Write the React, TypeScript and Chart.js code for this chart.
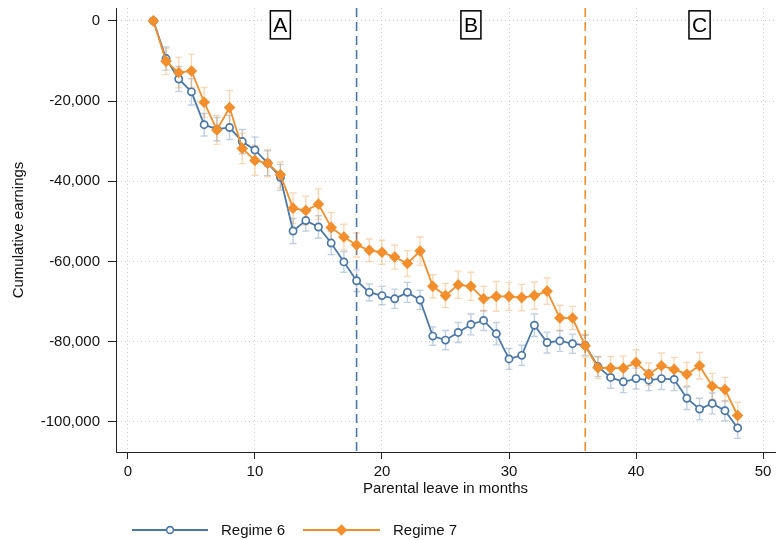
import React, { useEffect, useRef } from "react";
import { Chart, registerables } from "chart.js";

Chart.register(...registerables);

const months = [2, 3, 4, 5, 6, 7, 8, 9, 10, 11, 12, 13, 14, 15, 16, 17, 18, 19, 20, 21, 22, 23, 24, 25, 26, 27, 28, 29, 30, 31, 32, 33, 34, 35, 36, 37, 38, 39, 40, 41, 42, 43, 44, 45, 46, 47, 48];

const regime6 = [0, -9400, -14500, -17700, -25900, -27000, -26600, -30100, -32200, -35500, -39000, -52400, -49800, -51400, -55400, -60100, -64800, -67700, -68500, -69300, -67700, -69600, -78600, -79600, -77700, -75700, -74700, -78000, -84300, -83400, -75900, -80200, -79800, -80500, -80900, -86200, -88900, -90000, -89200, -89600, -89200, -89400, -94100, -96800, -95400, -97200, -101500];
const regime6Err = [0, 2900, 3100, 3300, 2800, 2900, 3000, 3000, 3200, 3100, 3200, 3100, 2600, 2800, 2900, 2600, 2700, 2100, 2300, 2400, 2500, 2400, 2300, 2400, 2500, 2600, 2500, 2800, 2600, 2500, 2800, 2600, 2600, 2400, 2500, 2500, 2700, 2700, 2600, 2600, 2700, 2800, 2800, 2700, 2600, 2500, 2600];

const regime7 = [0, -10100, -12900, -12500, -20300, -27200, -21600, -31800, -34800, -35500, -38400, -46700, -47300, -45700, -51500, -53900, -55900, -57200, -57700, -58900, -60500, -57400, -66200, -68500, -65800, -66200, -69300, -68700, -68700, -69000, -68500, -67400, -74100, -74100, -81000, -86500, -86600, -86600, -85200, -88100, -86000, -86900, -88100, -86000, -91100, -91900, -98400];
const regime7Err = [0, 3300, 3800, 4200, 3700, 3600, 4200, 3800, 3700, 3400, 3200, 3800, 3600, 3800, 3700, 3200, 3000, 2800, 3000, 3000, 3200, 3500, 2900, 3000, 3400, 3500, 3100, 3700, 3500, 3300, 3400, 3300, 3200, 2900, 2800, 2700, 2900, 3000, 3200, 2800, 3200, 3000, 2900, 3300, 3200, 3000, 3300];

const xTicks = [0, 10, 20, 30, 40, 50];
const yTicks = [0, -20000, -40000, -60000, -80000, -100000];

const cutoffs = [18, 36];
const regionLabels = ["A", "B", "C"];
const regionPositions = [12, 27, 45];
const regionLabelY = -1000;

const seriesNames = ["Regime 6", "Regime 7"];

const BLUE = "#4b78a8";
const ORANGE = "#f28e2b";
const BLUE_ERR = "rgba(75,120,168,0.35)";
const ORANGE_ERR = "rgba(242,142,43,0.35)";
const FONT = "'Liberation Sans', Arial, Helvetica, sans-serif";

function fmt(v: number) {
  return v.toLocaleString("en-US");
}

const overlayPlugin = {
  id: "overlay",
  beforeDatasetsDraw(chart: any) {
    const { ctx, scales, chartArea } = chart;
    const xs = scales.x;
    const ys = scales.y;
    const cutColors = [BLUE, ORANGE];
    cutoffs.forEach((c, i) => {
      const px = xs.getPixelForValue(c);
      ctx.save();
      ctx.strokeStyle = cutColors[i];
      ctx.lineWidth = 1.6;
      ctx.setLineDash([9, 5]);
      ctx.beginPath();
      ctx.moveTo(px, chartArea.top);
      ctx.lineTo(px, chartArea.bottom);
      ctx.stroke();
      ctx.restore();
    });
    const sets = [
      { vals: regime6, errs: regime6Err, color: BLUE_ERR },
      { vals: regime7, errs: regime7Err, color: ORANGE_ERR },
    ];
    sets.forEach((s) => {
      ctx.save();
      ctx.strokeStyle = s.color;
      ctx.lineWidth = 1.4;
      months.forEach((m, i) => {
        const e = s.errs[i];
        if (!e) return;
        const px = xs.getPixelForValue(m);
        const y1 = ys.getPixelForValue(s.vals[i] + e);
        const y2 = ys.getPixelForValue(s.vals[i] - e);
        ctx.beginPath();
        ctx.moveTo(px, y1);
        ctx.lineTo(px, y2);
        ctx.moveTo(px - 3.5, y1);
        ctx.lineTo(px + 3.5, y1);
        ctx.moveTo(px - 3.5, y2);
        ctx.lineTo(px + 3.5, y2);
        ctx.stroke();
      });
      ctx.restore();
    });
  },
  afterDraw(chart: any) {
    const { ctx, scales } = chart;
    const xs = scales.x;
    const ys = scales.y;
    ctx.save();
    ctx.font = `21px ${FONT}`;
    ctx.textAlign = "center";
    ctx.textBaseline = "middle";
    regionLabels.forEach((lab, i) => {
      const px = xs.getPixelForValue(regionPositions[i]);
      const py = ys.getPixelForValue(regionLabelY);
      const w = ctx.measureText(lab).width + 6;
      const h = 28;
      ctx.fillStyle = "#fff";
      ctx.fillRect(px - w / 2, py - h / 2, w, h);
      ctx.strokeStyle = "#000";
      ctx.lineWidth = 1.5;
      ctx.strokeRect(px - w / 2, py - h / 2, w, h);
      ctx.fillStyle = "#000";
      ctx.fillText(lab, px, py + 1);
    });
    ctx.restore();

    ctx.save();
    const ly = 530;
    const items = [
      { x0: 132, x1: 208, color: BLUE, marker: "circle", text: seriesNames[0], tx: 221 },
      { x0: 303, x1: 380, color: ORANGE, marker: "diamond", text: seriesNames[1], tx: 393 },
    ];
    items.forEach((it) => {
      ctx.strokeStyle = it.color;
      ctx.lineWidth = 1.8;
      ctx.beginPath();
      ctx.moveTo(it.x0, ly);
      ctx.lineTo(it.x1, ly);
      ctx.stroke();
      const mx = (it.x0 + it.x1) / 2;
      if (it.marker === "circle") {
        ctx.fillStyle = "#fff";
        ctx.beginPath();
        ctx.arc(mx, ly, 3.4, 0, Math.PI * 2);
        ctx.fill();
        ctx.lineWidth = 1.6;
        ctx.stroke();
      } else {
        ctx.fillStyle = it.color;
        ctx.beginPath();
        ctx.moveTo(mx, ly - 5.8);
        ctx.lineTo(mx + 5.8, ly);
        ctx.lineTo(mx, ly + 5.8);
        ctx.lineTo(mx - 5.8, ly);
        ctx.closePath();
        ctx.fill();
      }
      ctx.fillStyle = "#111";
      ctx.font = `15px ${FONT}`;
      ctx.textAlign = "left";
      ctx.textBaseline = "middle";
      ctx.fillText(it.text, it.tx, ly + 1);
    });
    ctx.restore();
  },
};

export default function App() {
  const ref = useRef<HTMLCanvasElement | null>(null);

  useEffect(() => {
    if (!ref.current) return;
    const gridColor = "#cfcfcf";
    const chart = new Chart(ref.current, {
      type: "line",
      data: {
        datasets: [
          {
            label: seriesNames[0],
            data: months.map((m, i) => ({ x: m, y: regime6[i] })),
            borderColor: BLUE,
            backgroundColor: "#ffffff",
            borderWidth: 1.8,
            pointStyle: "circle",
            pointRadius: 3.6,
            pointBorderWidth: 1.7,
            pointBorderColor: BLUE,
            pointBackgroundColor: "#ffffff",
            tension: 0,
            order: 2,
          },
          {
            label: seriesNames[1],
            data: months.map((m, i) => ({ x: m, y: regime7[i] })),
            borderColor: ORANGE,
            backgroundColor: ORANGE,
            borderWidth: 1.8,
            pointStyle: "rectRot",
            pointRadius: 5.8,
            pointBorderWidth: 0,
            pointBackgroundColor: ORANGE,
            tension: 0,
            order: 1,
          },
        ],
      },
      options: {
        animation: false,
        responsive: false,
        maintainAspectRatio: false,
        layout: { autoPadding: false, padding: { left: 0, right: 1, top: 8, bottom: 38 } },
        plugins: {
          legend: { display: false },
          tooltip: { enabled: false },
        },
        scales: {
          x: {
            type: "linear",
            min: -0.94,
            max: 50.94,
            afterFit: (s: any) => {
              s.height = 50;
              s.paddingLeft = 0;
              s.paddingRight = 0;
            },
            afterBuildTicks: (s: any) => {
              s.ticks = xTicks.map((v) => ({ value: v }));
            },
            ticks: {
              color: "#111",
              font: { family: FONT, size: 15 },
              padding: 4,
              maxRotation: 0,
              autoSkip: false,
            },
            grid: {
              color: gridColor,
              tickColor: "#222",
              tickBorderDash: [],
              tickLength: 7,
              lineWidth: 1,
            },
            border: { display: true, color: "#222", width: 1, dash: [1, 3] },
            title: {
              display: true,
              text: "Parental leave in months",
              color: "#111",
              font: { family: FONT, size: 15 },
              padding: { top: 0, bottom: 4 },
            },
          },
          y: {
            type: "linear",
            min: -107500,
            max: 3200,
            afterFit: (s: any) => {
              s.width = 116;
              s.paddingTop = 0;
              s.paddingBottom = 0;
            },
            afterBuildTicks: (s: any) => {
              s.ticks = yTicks.map((v) => ({ value: v }));
            },
            ticks: {
              color: "#111",
              font: { family: FONT, size: 15 },
              padding: 8,
              callback: (v: any) => fmt(Number(v)),
              autoSkip: false,
            },
            grid: {
              color: gridColor,
              tickColor: "#222",
              tickBorderDash: [],
              tickLength: 8,
              lineWidth: 1,
            },
            border: { display: true, color: "#222", width: 1, dash: [1, 3] },
            title: {
              display: true,
              text: "Cumulative earnings",
              color: "#111",
              font: { family: FONT, size: 15 },
              padding: { top: 10, bottom: 0 },
            },
          },
        },
      } as any,
      plugins: [overlayPlugin],
    });
    return () => chart.destroy();
  }, []);

  return (
    <div style={{ position: "absolute", left: 0, top: 0, width: 776, height: 540, background: "#fff" }}>
      <canvas ref={ref} width={776} height={540} style={{ width: 776, height: 540 }} />
    </div>
  );
}
